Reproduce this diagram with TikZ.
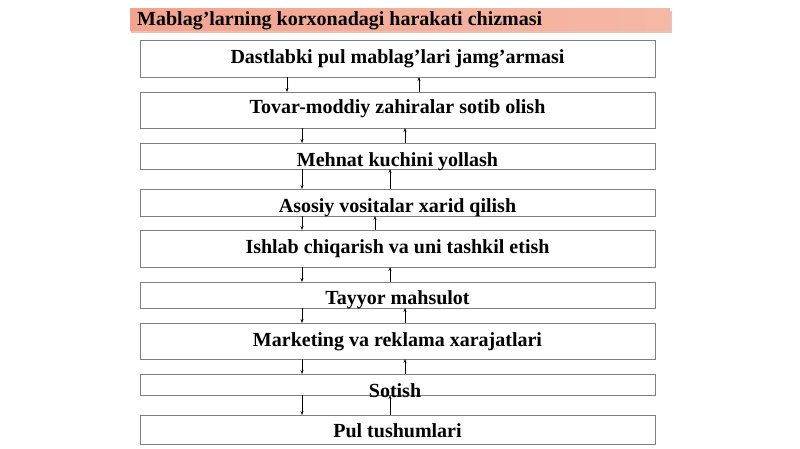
\documentclass[tikz,border=0pt]{standalone}
\usepackage{fontspec}
\setmainfont{Liberation Serif}
\usetikzlibrary{arrows.meta}

\definecolor{titlefill}{RGB}{242,172,150}
\definecolor{titleshade}{RGB}{222,150,128}
\definecolor{boxline}{RGB}{128,128,128}

\tikzset{
  box/.style={draw=boxline, line width=0.9pt, minimum width=515pt, inner sep=0pt, outer sep=0pt},
  lbl/.style={font=\fontsize{20}{24}\selectfont\bfseries, inner sep=0pt, anchor=base},
  arr/.style={-{Stealth[length=4pt,width=3pt]}, line width=0.6pt}
}

\begin{document}
\begin{tikzpicture}[x=1pt,y=-1pt]
  \useasboundingbox (0,0) rectangle (800,449);

  % Title bar
  \fill[titleshade!60] (131,11) rectangle (672,33);
  \shade[left color=titlefill!95!red, right color=titlefill!85!white] (130,9) rectangle (670,31);
  \node[lbl, anchor=base west] (title) at (137,25.5) {Mablag’larning korxonadagi harakati chizmasi};

  % Draw the boxes (name/top/bottom)
  \foreach \n/\t/\b in {1/40/77, 2/92/128, 3/143/169, 4/189/216, 5/230/267,
                        6/282/308, 7/323/359, 8/374/395, 9/415/444} {
    \node[box, minimum height={(\b-\t)*1pt}] (b\n) at (397.5,{(\t+\b)/2}) {};
  }

  % Box texts (placed on their own baselines)
  \node[lbl] (t1) at (397.5,63.5) {Dastlabki pul mablag’lari jamg’armasi};
  \node[lbl] (t2) at (397.5,114) {Tovar-moddiy zahiralar sotib olish};
  \node[lbl] (t3) at (397.5,167) {Mehnat kuchini yollash};
  \node[lbl] (t4) at (397.5,212) {Asosiy vositalar xarid qilish};
  \node[lbl] (t5) at (397.5,253) {Ishlab chiqarish va uni tashkil etish};
  \node[lbl] (t6) at (397.5,304) {Tayyor mahsulot};
  \node[lbl] (t7) at (397.5,346) {Marketing va reklama xarajatlari};
  \node[lbl] (t8) at (395,397) {Sotish};
  \node[lbl] (t9) at (397.5,437) {Pul tushumlari};

  % Connect boxes: down on the left, up on the right
  \foreach \i/\j/\dx/\ux in {1/2/287/419, 2/3/302/405, 3/4/302/390, 4/5/302/375,
                             5/6/302/390, 6/7/302/405, 7/8/302/405, 8/9/302/390} {
    \coordinate (dn) at (\dx,0);
    \coordinate (up) at (\ux,0);
    \draw[arr] (b\i.south -| dn) -- (b\j.north -| dn);
    \draw[arr] (b\j.north -| up) -- (b\i.south -| up);
  }

\end{tikzpicture}
\end{document}
